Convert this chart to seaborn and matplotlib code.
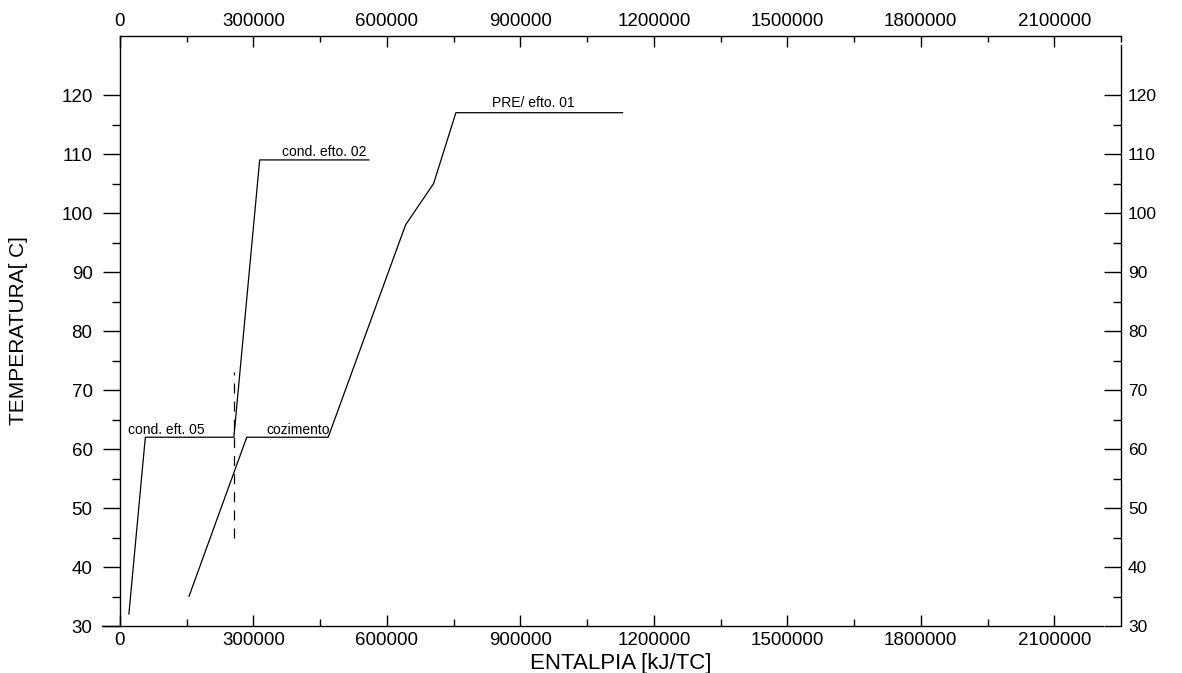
import matplotlib
matplotlib.use("Agg")
import matplotlib.pyplot as plt
import pandas as pd
import seaborn as sns
from matplotlib.ticker import FixedLocator, FuncFormatter

# Enthalpy (kJ/TC) and temperature (C) of each curve
hot_enthalpy = [20000, 57000, 256000, 314000, 560000]
hot_temperature = [32, 62, 62, 109, 109]

cold_enthalpy = [155000, 285000, 468000, 642000, 705000, 755000, 1130000]
cold_temperature = [35, 62, 62, 98, 105, 117, 117]

pinch_enthalpy = [256000, 256000]
pinch_temperature = [45, 73]

# Stream labels and the curve vertex each one is attached to
label_texts = ["cond. eft. 05", "cozimento", "cond. efto. 02", "PRE/ efto. 01"]
label_x = [256000, 285000, 314000, 755000]
label_y = [62, 62, 109, 117]

x_major = [0, 300000, 600000, 900000, 1200000, 1500000, 1800000, 2100000]
x_minor_bottom = [150000, 450000, 750000, 1050000, 1350000, 1650000, 1950000]
x_minor_top = x_minor_bottom + [2250000]
y_major = [30, 40, 50, 60, 70, 80, 90, 100, 110, 120]
y_minor = [35, 45, 55, 65, 75, 85, 95, 105, 115]

sns.set_theme(style="white", rc={
    "axes.edgecolor": "black",
    "axes.labelcolor": "black",
    "text.color": "black",
    "xtick.color": "black",
    "ytick.color": "black",
})
plt.rcParams["font.family"] = ["Liberation Sans", "DejaVu Sans"]

fig = plt.figure(figsize=(11.82, 6.73), dpi=100)
ax = fig.add_axes([0.1015, 0.0698, 0.8469, 0.8767])

curves = pd.concat([
    pd.DataFrame({"enthalpy": hot_enthalpy, "temperature": hot_temperature, "curve": "hot"}),
    pd.DataFrame({"enthalpy": cold_enthalpy, "temperature": cold_temperature, "curve": "cold"}),
], ignore_index=True)
pinch = pd.DataFrame({"enthalpy": pinch_enthalpy, "temperature": pinch_temperature})

sns.lineplot(data=curves, x="enthalpy", y="temperature", units="curve",
             estimator=None, sort=False, color="black", linewidth=0.9, ax=ax)
sns.lineplot(data=pinch, x="enthalpy", y="temperature", estimator=None,
             sort=False, color="black", linewidth=0.9, ax=ax,
             linestyle=(0, (8, 6.5)))

# Labels sit just above the plateaus of the curves
label_offsets = [(-68, 3), (51, 3), (65, 4), (77, 5.5)]
for text, x, y, off in zip(label_texts, label_x, label_y, label_offsets):
    ax.annotate(text, xy=(x, y), xytext=off, textcoords="offset pixels",
                ha="center", va="baseline", fontsize=10)

ax.set_xlim(0, 2250000)
ax.set_ylim(30, 130)

fmt = FuncFormatter(lambda v, _: f"{int(round(v))}")

# Bottom and left axes
ax.spines["top"].set_visible(False)
ax.spines["right"].set_visible(False)
ax.spines["left"].set_bounds(30, 130)
ax.spines["bottom"].set_bounds(-40000, 2210000)
for s in ("left", "bottom"):
    ax.spines[s].set_linewidth(1.0)
ax.xaxis.set_major_locator(FixedLocator(x_major))
ax.xaxis.set_minor_locator(FixedLocator(x_minor_bottom))
ax.xaxis.set_major_formatter(fmt)
ax.yaxis.set_major_locator(FixedLocator(y_major))
ax.yaxis.set_minor_locator(FixedLocator(y_minor))
ax.yaxis.set_major_formatter(fmt)
ax.tick_params(axis="x", which="both", bottom=True, direction="in", width=1.0)
ax.tick_params(axis="x", which="major", length=7.7, pad=4.5, labelsize=13.5)
ax.tick_params(axis="x", which="minor", length=5)
ax.tick_params(axis="y", which="both", left=True, direction="out", width=1.0)
ax.tick_params(axis="y", which="major", length=12.2, pad=7.5, labelsize=13.5)
ax.tick_params(axis="y", which="minor", length=5.8)

ax.set_xlabel("ENTALPIA [kJ/TC]", fontsize=16)
ax.xaxis.set_label_coords(0.5, -0.046)
ax.set_ylabel("TEMPERATURA[ C]", fontsize=15)
ax.yaxis.set_label_coords(-0.092, 0.5)

# Right temperature axis
axr = ax.twinx()
axr.set_ylim(30, 130)
for s in ("left", "top", "bottom"):
    axr.spines[s].set_visible(False)
axr.spines["right"].set_bounds(30, 128.5)
axr.spines["right"].set_linewidth(1.0)
axr.yaxis.set_major_locator(FixedLocator(y_major))
axr.yaxis.set_minor_locator(FixedLocator(y_minor))
axr.yaxis.set_major_formatter(fmt)
axr.tick_params(axis="y", which="both", right=True, left=False, labelright=True,
                direction="in", width=1.0)
axr.tick_params(axis="y", which="major", length=12.2, pad=5, labelsize=12.5)
axr.tick_params(axis="y", which="minor", length=5.8)

# Top enthalpy axis
axt = ax.twiny()
axt.set_xlim(0, 2250000)
for s in ("left", "right", "bottom"):
    axt.spines[s].set_visible(False)
axt.spines["top"].set_linewidth(1.0)
axt.xaxis.set_major_locator(FixedLocator(x_major))
axt.xaxis.set_minor_locator(FixedLocator(x_minor_top))
axt.xaxis.set_major_formatter(fmt)
axt.tick_params(axis="x", which="both", top=True, bottom=False, labeltop=True,
                direction="in", width=1.0)
axt.tick_params(axis="x", which="major", length=8, pad=4, labelsize=13.5)
axt.tick_params(axis="x", which="minor", length=4.3)

fig.savefig("out.png", dpi=100, facecolor="white")
